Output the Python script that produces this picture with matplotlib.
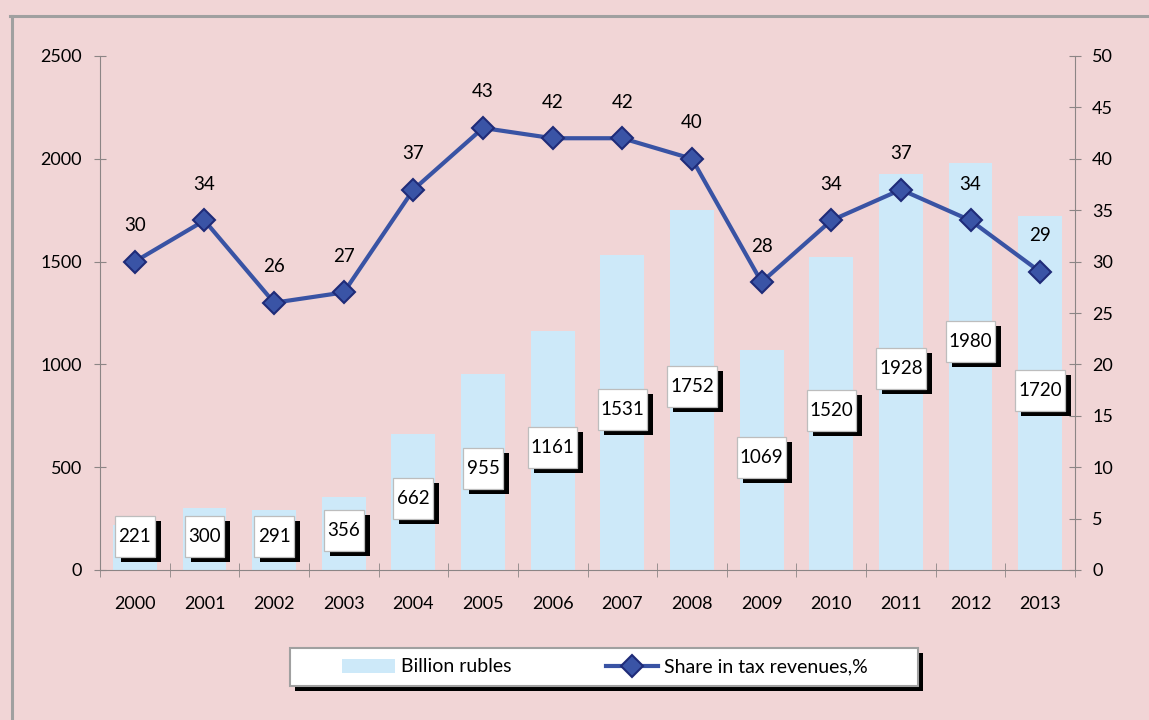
import matplotlib.pyplot as plt
from matplotlib.patches import Rectangle, Patch
from matplotlib.lines import Line2D
from matplotlib.transforms import ScaledTranslation

# donnees
years = ["2000", "2001", "2002", "2003", "2004", "2005", "2006",
         "2007", "2008", "2009", "2010", "2011", "2012", "2013"]
billion_rubles = [221, 300, 291, 356, 662, 955, 1161,
                  1531, 1752, 1069, 1520, 1928, 1980, 1720]
share_pct = [30, 34, 26, 27, 37, 43, 42, 42, 40, 28, 34, 37, 34, 29]
left_ticks = [0, 500, 1000, 1500, 2000, 2500]
right_ticks = [0, 5, 10, 15, 20, 25, 30, 35, 40, 45, 50]

W, H = 1149, 720
FOND = "#F1D5D6"
BLEU_BARRE = "#CDE9F9"
BLEU_LIGNE = "#3953A4"
GRIS_AXE = "#8C8585"

plt.rcParams["font.family"] = ["Lato", "DejaVu Sans"]
plt.rcParams["font.size"] = 13


def boite(ax, x, y, texte):
    """Etiquette blanche avec ombre noire, taille en pixels."""
    w = 11 + 9.6 * len(texte)
    h = 41
    ancre = ScaledTranslation(x, y, ax.transData)
    ombre = Rectangle((-w / 2 + 6, -h / 2 - 5), w, h, transform=ancre,
                      facecolor="black", edgecolor="none", zorder=4,
                      clip_on=False)
    carre = Rectangle((-w / 2, -h / 2), w, h, transform=ancre,
                      facecolor="white", edgecolor="#BDBDBD", lw=0.9,
                      zorder=5, clip_on=False)
    ax.add_artist(ombre)
    ax.add_artist(carre)
    ax.text(x, y, texte, ha="center", va="center", zorder=6, fontsize=13.5)


def main():
    fig = plt.figure(figsize=(W / 100, H / 100), dpi=100, facecolor=FOND)
    ax = fig.add_axes([100 / W, 1 - 570 / H, 975 / W, 514 / H])
    ax.set_facecolor("none")
    ax2 = ax.twinx()

    x = list(range(len(years)))

    # barres (axe gauche)
    ax.bar(x, billion_rubles, width=0.63, color=BLEU_BARRE, zorder=2)
    ax.set_ylim(0, 2500)
    ax.set_xlim(-0.5, len(years) - 0.5)
    ax.set_yticks(left_ticks)

    # courbe (axe droit)
    ax2.plot(x, share_pct, color=BLEU_LIGNE, lw=3, marker="D",
             markersize=11, markerfacecolor="#3A54A6",
             markeredgecolor="#1F2B78", markeredgewidth=1.5, zorder=3)
    ax2.set_ylim(0, 50)
    ax2.set_yticks(right_ticks)
    for i, v in enumerate(share_pct):
        ax2.annotate(str(v), (i, v), xytext=(0, 26),
                     textcoords="offset points", ha="center", va="center",
                     fontsize=13.5)

    # etiquettes des barres, vers le milieu de la barre
    for i, v in enumerate(billion_rubles):
        hauteur = max(v / 2, 150) + 15
        if years[i] == "2012":
            hauteur += 104
        boite(ax, i, hauteur, str(v))

    # axes
    for a in (ax, ax2):
        a.spines["top"].set_visible(False)
        for s in ("left", "right", "bottom"):
            a.spines[s].set_color(GRIS_AXE)
            a.spines[s].set_linewidth(0.8)
    ax.spines["right"].set_visible(False)
    ax2.spines["left"].set_visible(False)
    ax2.spines["bottom"].set_visible(False)

    ax.tick_params(axis="y", direction="inout", length=8.6, pad=8.7,
                   color=GRIS_AXE, labelsize=13)
    ax2.tick_params(axis="y", direction="inout", length=8.6, pad=8.0,
                    color=GRIS_AXE, labelsize=13)

    # annees au centre, petits traits entre les categories
    ax.set_xticks(x)
    ax.set_xticklabels(years)
    ax.set_xticks([i - 0.5 for i in range(len(years) + 1)], minor=True)
    ax.tick_params(axis="x", which="major", length=0, pad=19, labelsize=13)
    ax.tick_params(axis="x", which="minor", direction="inout", length=10,
                   color=GRIS_AXE)

    # cadre exterieur gris
    fig.add_artist(Line2D([11.5 / W, 11.5 / W], [0, 1 - 15.5 / H],
                          transform=fig.transFigure, color="#A0A0A0", lw=2.2))
    fig.add_artist(Line2D([10 / W, 1], [1 - 15.5 / H, 1 - 15.5 / H],
                          transform=fig.transFigure, color="#A0A0A0", lw=2.2))

    # cadre de la legende avec ombre
    fig.add_artist(Rectangle((295 / W, 1 - 691 / H), 628 / W, 38 / H,
                             transform=fig.transFigure, facecolor="black",
                             edgecolor="none", zorder=1))
    fig.add_artist(Rectangle((290 / W, 1 - 686 / H), 628 / W, 38 / H,
                             transform=fig.transFigure, facecolor="white",
                             edgecolor="#A0A0A0", lw=1.5, zorder=1))

    poignees = [
        Patch(facecolor=BLEU_BARRE, edgecolor="none"),
        Line2D([], [], color=BLEU_LIGNE, lw=3, marker="D", markersize=11,
               markerfacecolor="#3A54A6", markeredgecolor="#1F2B78",
               markeredgewidth=1.5),
    ]
    leg = fig.legend(poignees, ["Billion rubles", "Share in tax revenues,%"],
                     loc="center", bbox_to_anchor=(605 / W, 1 - 667 / H),
                     ncol=2, frameon=False, fontsize=14, handlelength=2.7,
                     handletextpad=0.3, columnspacing=4.85)
    leg.set_zorder(5)

    fig.savefig("out.png", dpi=100, facecolor=FOND)


if __name__ == "__main__":
    main()
